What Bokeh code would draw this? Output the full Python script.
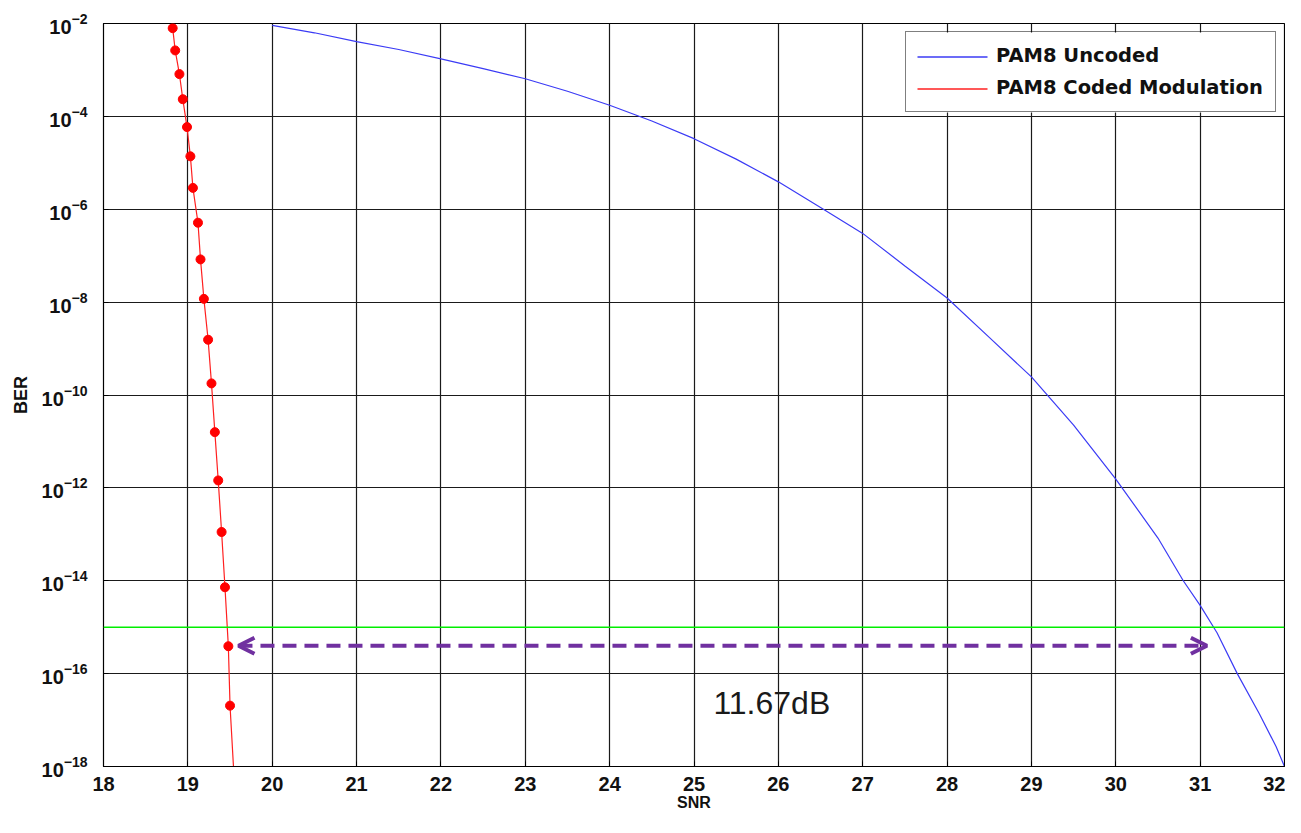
import numpy as np
from bokeh.plotting import figure
from bokeh.models import (Span, Arrow, OpenHead, Label, Legend, LegendItem,
                          BoxAnnotation, FixedTicker, ColumnDataSource)
from bokeh.embed import file_html
from bokeh.resources import INLINE

# ---- data ----
snr_uncoded = [20.0, 20.5, 21.0, 21.5, 22.0, 22.5, 23.0, 23.5, 24.0, 24.5, 25.0, 25.5,
               26.0, 26.5, 27.0, 27.5, 28.0, 28.5, 29.0, 29.5, 30.0, 30.5, 30.8, 31.0,
               31.2, 31.44, 31.7, 31.9, 32.0]
log_ber_uncoded = [-2.04, -2.20, -2.39, -2.56, -2.76, -2.97, -3.19, -3.46, -3.76, -4.10,
                   -4.48, -4.92, -5.41, -5.96, -6.52, -7.22, -7.91, -8.76, -9.61,
                   -10.65, -11.81, -13.08, -14.0, -14.53, -15.12, -16.0, -16.86, -17.57,
                   -18.0]

snr_coded = [18.82, 18.85, 18.90, 18.94, 18.99, 19.03, 19.06, 19.12, 19.15, 19.19,
             19.24, 19.28, 19.32, 19.36, 19.40, 19.44, 19.48, 19.50, 19.55]
log_ber_coded = [-2.10, -2.58, -3.09, -3.63, -4.23, -4.86, -5.54, -6.29, -7.08, -7.93,
                 -8.81, -9.75, -10.80, -11.84, -12.95, -14.14, -15.41, -16.69, -18.30]

series_names = ["PAM8 Uncoded", "PAM8 Coded Modulation"]
series_colors = ["#3b3bf5", "#ff2020"]

ber_target = 1e-15
arrow_x_start = 19.60
arrow_x_end = 31.08
arrow_log_y = -15.4
gain_label = "11.67dB"
gain_label_x = 25.23
gain_label_log_y = -16.63

x_title = "SNR"
y_title = "BER"

x_ticks = list(range(18, 33))
y_tick_exponents = list(range(-18, -1, 2))

ber_uncoded = [10 ** v for v in log_ber_uncoded]
ber_coded = [10 ** v for v in log_ber_coded]

FONT = "Liberation Sans"

p = figure(width=1285, height=817, y_axis_type="log",
           x_range=(18, 32), y_range=(1e-18, 1e-2),
           output_backend="svg", toolbar_location=None,
           min_border_left=103, min_border_right=1, min_border_top=23,
           min_border_bottom=51)
p.outline_line_color = "black"
p.outline_line_width = 1.2

# axes
p.xaxis.ticker = FixedTicker(ticks=x_ticks)
p.yaxis.ticker = FixedTicker(ticks=[10.0 ** e for e in y_tick_exponents])
for ax in (p.xaxis[0], p.yaxis[0]):
    ax.major_label_text_font = FONT
    ax.major_label_text_font_style = "bold"
    ax.major_label_text_font_size = "20px"
    ax.major_label_text_color = "#111111"
    ax.axis_label_text_font = FONT
    ax.axis_label_text_font_style = "bold"
    ax.axis_label_text_font_size = "18px"
    ax.axis_label_text_color = "#111111"
    ax.major_tick_in = 5
    ax.major_tick_out = 0
    ax.minor_tick_in = 0
    ax.minor_tick_out = 0
    ax.axis_line_color = "black"
    ax.major_tick_line_color = "black"
p.xaxis.axis_label = x_title
p.xaxis.axis_label_text_font_size = "16px"
p.yaxis.axis_label = y_title
p.xaxis.major_label_standoff = 10
p.xaxis.axis_label_standoff = 0
p.yaxis.major_label_standoff = 16
p.yaxis.axis_label_standoff = 8

p.grid.grid_line_color = "#1a1a1a"
p.grid.grid_line_width = 1.2
p.grid.grid_line_alpha = 1.0
p.ygrid.minor_grid_line_color = None

# data series
p.line(snr_uncoded, ber_uncoded, line_color=series_colors[0], line_width=1.2)
src_c = ColumnDataSource(dict(x=snr_coded, y=ber_coded))
p.line("x", "y", source=src_c, line_color=series_colors[1], line_width=1.2)
p.scatter("x", "y", source=src_c, size=9, fill_color="#ff0000",
          line_color="#ff0000")

# target line
p.add_layout(Span(location=ber_target, dimension="width",
                  line_color="#00ee00", line_width=1.5))

# arrow
yy = 10 ** arrow_log_y
head_kw = dict(size=16, line_color="#7030a0", line_width=4)
p.add_layout(Arrow(x_start=arrow_x_start, y_start=yy, x_end=arrow_x_end, y_end=yy,
                   start=OpenHead(**head_kw), end=OpenHead(**head_kw),
                   line_color="#7030a0", line_width=4, line_dash="14 8"))

p.add_layout(Label(x=gain_label_x, y=10 ** gain_label_log_y, text=gain_label,
                   text_font=FONT, text_font_size="32px", text_color="#1a1a1a",
                   text_align="left", text_baseline="alphabetic"))

# ---- legend: native border and labels over a white panel; the sample lines are
# drawn as screen-unit strokes (legend glyph strokes get the wrong colour in SVG)
LEG_X, LEG_Y = 802, 654
PAD, GW, LH, SP, LEG_W = 12, 70, 23, 9, 371
leg_top = LEG_Y + 2 * PAD + 2 * LH + SP

p.add_layout(BoxAnnotation(left=LEG_X, right=LEG_X + LEG_W, bottom=LEG_Y, top=leg_top + 1,
                           left_units="screen", right_units="screen",
                           bottom_units="screen", top_units="screen",
                           fill_color="white", fill_alpha=1.0, line_alpha=0.0))
for i, color in enumerate(series_colors):
    ry = leg_top - PAD - LH / 2 - i * (LH + SP)
    p.add_layout(Arrow(x_start=LEG_X + PAD, x_end=LEG_X + PAD + GW, y_start=ry, y_end=ry,
                       start_units="screen", end_units="screen",
                       start=None, end=None, line_color=color, line_width=1.3))

key_src = ColumnDataSource(dict(x=[], y=[], t=[]))
key_r = p.text("x", "y", text="t", source=key_src)
legend = Legend(items=[LegendItem(label=n, renderers=[key_r]) for n in series_names],
                location=(LEG_X, LEG_Y))
legend.label_text_font = "DejaVu Sans"
legend.label_text_font_style = "bold"
legend.label_text_font_size = "19.5px"
legend.label_text_color = "#111111"
legend.glyph_width = GW
legend.glyph_height = LH
legend.label_height = LH
legend.label_standoff = 8
legend.spacing = SP
legend.padding = PAD
legend.margin = 0
legend.border_line_color = "black"
legend.border_line_width = 1
legend.background_fill_alpha = 0.0
p.add_layout(legend)

open("out.html", "w").write(file_html(p, INLINE))
